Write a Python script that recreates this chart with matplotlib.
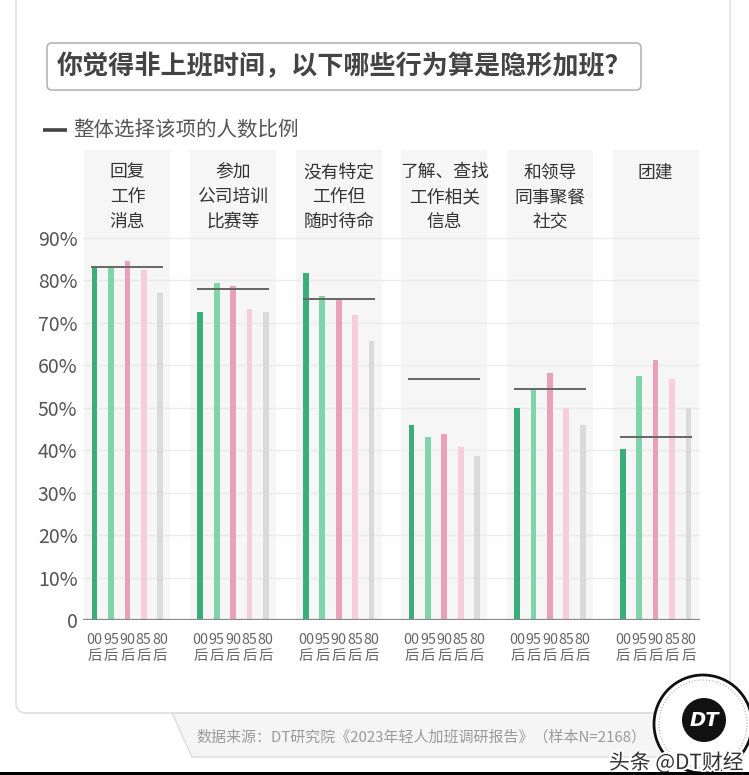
import numpy as np
import matplotlib.pyplot as plt
from matplotlib.patches import FancyBboxPatch, Circle, Polygon, Rectangle
import matplotlib.patheffects as pe

plt.rcParams['font.family'] = ['Noto Sans CJK SC', 'DejaVu Sans']

# --- data ---
categories = ['回复\n工作\n消息', '参加\n公司培训\n比赛等', '没有特定\n工作但\n随时待命',
              '了解、查找\n工作相关\n信息', '和领导\n同事聚餐\n社交', '团建']
generations = ['00', '95', '90', '85', '80']
v00 = [83.1, 72.5, 81.6, 46.0, 49.8, 40.2]
v95 = [83.0, 79.2, 76.2, 43.0, 54.3, 57.4]
v90 = [84.5, 78.6, 75.5, 43.8, 58.2, 61.2]
v85 = [82.3, 73.3, 71.8, 40.8, 49.8, 56.6]
v80 = [77.0, 72.5, 65.7, 38.6, 46.0, 49.8]
overall = [83.1, 77.9, 75.6, 56.6, 54.4, 43.1]
yticks = [0, 10, 20, 30, 40, 50, 60, 70, 80, 90]

series = [v00, v95, v90, v85, v80]
colors = ['#3aae78', '#80d5a8', '#eba0ba', '#f7cddc', '#dadada']

W, H = 749, 775
fig = plt.figure(figsize=(W / 100, H / 100), dpi=100)
fig.patch.set_facecolor('white')

# --- background / decoration layer in pixel coords ---
bg = fig.add_axes([0, 0, 1, 1], zorder=0)
bg.set_xlim(0, W)
bg.set_ylim(H, 0)
bg.axis('off')

# card
bg.add_patch(FancyBboxPatch((16, -20), 714, 733, boxstyle='round,pad=0,rounding_size=10',
                            fc='white', ec='#e2e2e2', lw=1.2))
# source ribbon
bg.add_patch(Polygon([(172, 713), (192, 757), (690, 757), (690, 713)],
                     closed=True, fc='#f5f5f5', ec='#dcdcdc', lw=1))
bg.text(421, 737, '数据来源：DT研究院《2023年轻人加班调研报告》（样本N=2168）',
        ha='center', va='center', fontsize=10.8, color='#9a9a9a')

# title box
bg.add_patch(FancyBboxPatch((47, 43), 594, 47, boxstyle='round,pad=0,rounding_size=5',
                            fc='white', ec='#b5b5b5', lw=1.2))
bg.text(344, 67, '你觉得非上班时间，以下哪些行为算是隐形加班？', ha='center', va='center',
        fontsize=18.8, fontweight='bold', color='#444444')

# legend
bg.plot([43, 67], [130, 130], color='#444444', lw=2.6, solid_capstyle='butt')
bg.text(73, 130, '整体选择该项的人数比例', ha='left', va='center', fontsize=14.8, color='#555555')

# logo
bg.add_patch(Circle((703, 724), 49, fc='white', ec='#111111', lw=2, zorder=5))
bg.add_patch(Circle((703, 724), 44, fc='none', ec='#aaaaaa', lw=0.8, ls=':', zorder=5))
bg.add_patch(Circle((704, 720), 22, fc='#111111', ec='none', zorder=6))
bg.text(704, 720, 'DT', ha='center', va='center', fontsize=14, fontweight='bold',
        fontstyle='italic', color='white', family='DejaVu Sans', zorder=7)
bg.text(609, 763, '头条 @DT财经', ha='left', va='center', fontsize=15, color='#333333', zorder=8,
        path_effects=[pe.withStroke(linewidth=3, foreground='white')])
bg.add_patch(Rectangle((0, 772), W, 3, fc='black', ec='none', zorder=9))

# --- main chart ---
ax = fig.add_axes([83 / W, 1 - 620 / H, 617 / W, 470 / H], zorder=1)
ax.patch.set_alpha(0)

x = np.arange(len(categories))
step = 0.155
bar_w = 0.054
ymax = 110.6

ax.bar(x, [ymax] * len(x), width=0.815, color='#f6f6f6', zorder=0)
for yv in yticks[1:]:
    ax.axhline(yv, color='#ebebeb', lw=1, zorder=0.5)

tick_pos = []
tick_lab = []
for i, (vals, c) in enumerate(zip(series, colors)):
    off = (i - 2) * step
    ax.bar(x + off, vals, width=bar_w, color=c, zorder=2)
    tick_pos.extend(list(x + off))
    tick_lab.extend([generations[i] + '\n后'] * len(x))

ax.hlines(overall, x - 0.34, x + 0.34, color='#666666', lw=1.4, zorder=3)
ax.axhline(0, color='#888888', lw=1.6, zorder=4)

for xi, cat in zip(x, categories):
    ax.text(xi, 107.5, cat, ha='center', va='top', fontsize=12.8, color='#333333',
            linespacing=1.5)

ax.set_xlim(-0.42, 5.42)
ax.set_ylim(0, ymax)
ax.set_yticks(yticks)
ax.set_yticklabels(['0'] + [f'{v}%' for v in yticks[1:]], fontsize=14, color='#555555')
ax.set_xticks(tick_pos)
ax.set_xticklabels(tick_lab, fontsize=10.3, color='#666666', linespacing=1.25)
ax.tick_params(axis='both', length=0)
ax.tick_params(axis='y', pad=4)
ax.tick_params(axis='x', pad=9)
for s in ax.spines.values():
    s.set_visible(False)

fig.savefig('out.png', dpi=100, facecolor='white')
